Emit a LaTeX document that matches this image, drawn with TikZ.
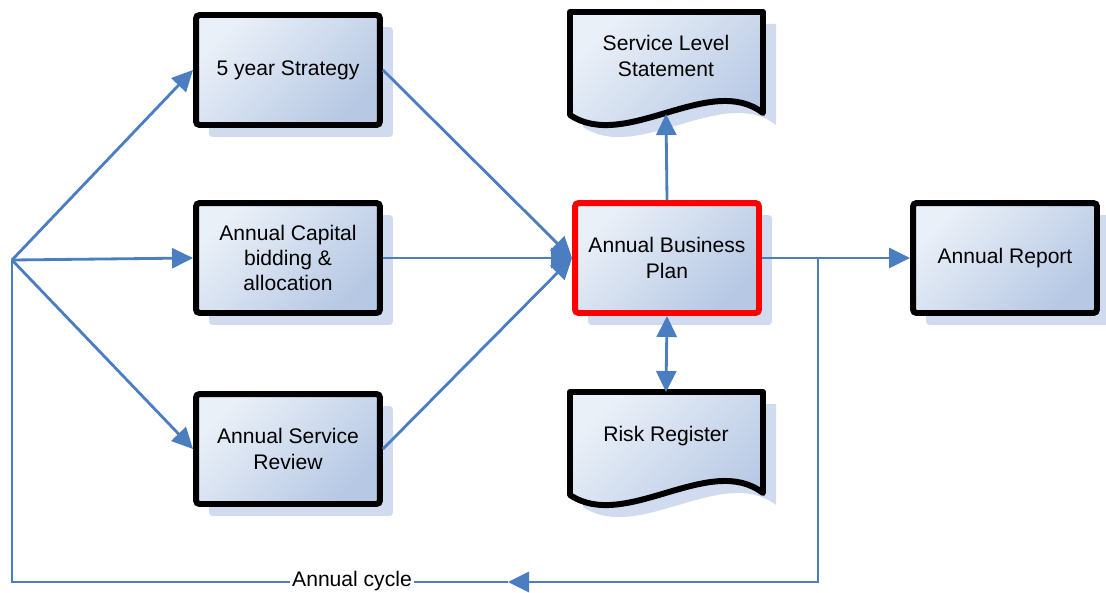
\documentclass[tikz,border=0pt]{standalone}
\usepackage{fontspec}
\setmainfont{Liberation Sans}
\usepackage{tikz}
\usetikzlibrary{arrows.meta,positioning,shadows}
\definecolor{flowblue}{RGB}{74,126,193}
\definecolor{boxtop}{RGB}{234,240,248}
\definecolor{boxbot}{RGB}{182,200,228}
\definecolor{shadeblue}{RGB}{208,219,240}

\begin{document}
\begin{tikzpicture}[x = 0.02cm, y = -0.02cm,
    txt/.style = {align = center, font = \fontsize{12}{14.4}\selectfont},
    paper/.style = {top color = boxtop, bottom color = boxbot, shading angle = 45,
      drop shadow = {shadow xshift = 0.26cm, shadow yshift = -0.24cm, fill = shadeblue, opacity = 1}},
    box/.style = {txt, paper, draw = black, line width = 3.4pt, rounded corners = 2pt,
      minimum width = 3.68cm, minimum height = 2.2cm},
    doc/.style = {paper, draw = black, line width = 3.4pt, line join = round},
    flow/.style = {draw = flowblue, line width = 1.6pt, -{Triangle[length = 0.42cm, width = 0.4cm]}},
    both/.style = {draw = flowblue, line width = 1.6pt,
      {Triangle[length = 0.42cm, width = 0.4cm]}-{Triangle[length = 0.42cm, width = 0.4cm]}},
    plain/.style = {draw = flowblue, line width = 1.6pt}]
      \useasboundingbox (0, 0) rectangle (1106, 592);
      % left column
      \node [box] (strategy) at (288, 70) {5 year Strategy};
      \node [box] (capital) at (288, 258) {Annual Capital\\bidding \&\\allocation};
      \node [box] (review) at (288, 449) {Annual Service\\Review};
      % middle column
      \node [box, draw = red] (plan) at (667, 258) {Annual Business\\Plan};
      \draw [doc] (570, 12) -- (763, 12) -- (763, 113) .. controls (710, 72) and (625, 152) .. (570, 115) -- cycle;
      \node [txt] (sls) at (666, 56) {Service Level\\Statement};
      \draw [doc] (570, 392) -- (763, 392) -- (763, 493) .. controls (710, 452) and (625, 532) .. (570, 495) -- cycle;
      \node [txt] (risk) at (666, 436) {Risk Register};
      \coordinate (sls-foot) at (666, 114);
      \coordinate (risk-head) at (666, 392);
      % right
      \node [box] (report) at (1005, 258) {Annual Report};
      % connectors
      \coordinate (hub) at (12, 260);
      \coordinate (hub-low) at (12, 582);
      \coordinate (split) at (818, 258);
      \coordinate (split-low) at (818, 582);
      \coordinate (cycle-tip) at (508, 582);
      \draw [flow] (hub) -- (strategy.west);
      \draw [flow] (hub) -- (capital.west);
      \draw [flow] (hub) -- (review.west);
      \draw [flow] (strategy.east) -- (plan.west);
      \draw [flow] (capital.east) -- (plan.west);
      \draw [flow] (review.east) -- (plan.west);
      \draw [flow] (plan.north) -- (sls-foot);
      \draw [both] (plan.south) -- (risk-head);
      \draw [flow] (plan.east) -- (report.west);
      \draw [flow] (split) -- (split-low) -- (cycle-tip);
      \draw [plain] (cycle-tip) -- (hub-low) -- (hub);
      \node [txt, fill = white, inner sep = 1pt] (cycle) at (352, 581) {Annual cycle};
    \end{tikzpicture}
\end{document}
